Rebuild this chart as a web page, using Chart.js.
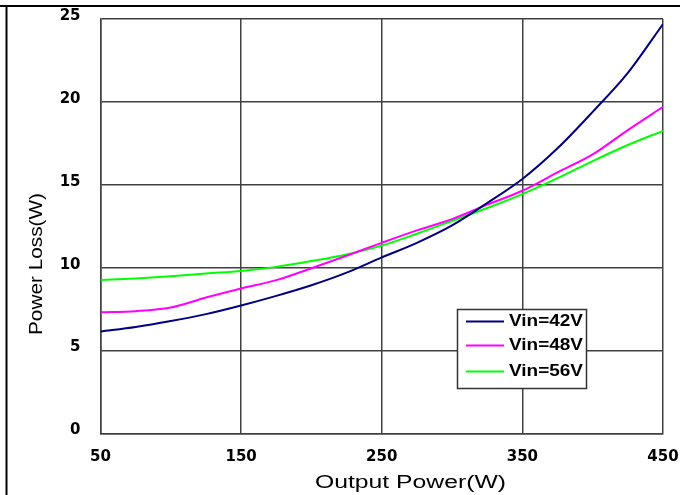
<!DOCTYPE html>
<html lang="en">
<head>
  <meta charset="UTF-8">
  <title>Power Loss vs Output Power</title>
  <script src="https://cdn.jsdelivr.net/npm/chart.js"></script>
  <style>
        body {
            margin: 0;
            background-color: #ffffff;
        }
    </style>
</head>
<body>
<canvas id="lossChart" width="680" height="495"></canvas>
<script>
    // output power (W)
    const outputPower = [50, 75, 100, 125, 150, 175, 200, 225, 250, 275, 300, 325, 350, 375, 400, 425, 450];
    // power loss (W) per input voltage
    const loss42 = [6.15, 6.42, 6.78, 7.2, 7.72, 8.3, 8.94, 9.7, 10.62, 11.5, 12.55, 13.9, 15.35, 17.2, 19.4, 21.75, 24.7];
    const loss48 = [7.31, 7.38, 7.6, 8.2, 8.75, 9.25, 9.97, 10.72, 11.5, 12.25, 12.93, 13.8, 14.64, 15.75, 16.83, 18.3, 19.7];
    const loss56 = [9.26, 9.35, 9.48, 9.65, 9.8, 10.05, 10.4, 10.8, 11.33, 12.05, 12.82, 13.6, 14.44, 15.4, 16.43, 17.4, 18.25];
    const seriesLabels = ['Vin=42V', 'Vin=48V', 'Vin=56V'];
    const seriesColors = ['#000080', '#ff00ff', '#00ff00'];
    const xTicks = [50, 150, 250, 350, 450];

    const xTitle = 'Output Power(W)';
    const yTitle = 'Power Loss(W)';

    function toPoints(values) {
        return values.map((v, i) => ({ x: outputPower[i], y: v }));
    }

    // stretched text, the scanned figure is wider than a normal font
    function stretchText(ctx, text, x, y, width) {
        const w = ctx.measureText(text).width;
        ctx.save();
        ctx.translate(x, y);
        ctx.scale(width / w, 1);
        ctx.fillText(text, 0, 0);
        ctx.restore();
    }

    const extras = {
        id: 'extras',
        afterDraw(chart) {
            const ctx = chart.ctx;

            // page frame lines
            ctx.save();
            ctx.strokeStyle = '#000000';
            ctx.lineWidth = 2;
            ctx.beginPath();
            ctx.moveTo(0, 6);
            ctx.lineTo(680, 6);
            ctx.moveTo(6.5, 6);
            ctx.lineTo(6.5, 495);
            ctx.stroke();

            // axis titles
            ctx.fillStyle = '#000000';
            ctx.font = '18px "Liberation Sans", Arial, sans-serif';
            ctx.textAlign = 'left';
            ctx.textBaseline = 'middle';
            stretchText(ctx, xTitle, 315, 483, 191);

            ctx.save();
            ctx.translate(37, 264);
            ctx.rotate(-Math.PI / 2);
            stretchText(ctx, yTitle, -71, 0, 142);
            ctx.restore();

            // legend box
            const bx = 457.5, by = 309.5, bw = 129, bh = 79;
            ctx.fillStyle = '#ffffff';
            ctx.fillRect(bx, by, bw, bh);
            ctx.strokeStyle = '#333333';
            ctx.lineWidth = 1.5;
            ctx.strokeRect(bx, by, bw, bh);
            const rows = [321.5, 345.5, 371.5];
            ctx.font = 'bold 16px "Liberation Sans", Arial, sans-serif';
            chart.data.datasets.forEach((ds, i) => {
                ctx.strokeStyle = ds.borderColor;
                ctx.lineWidth = 2;
                ctx.beginPath();
                ctx.moveTo(466, rows[i]);
                ctx.lineTo(504, rows[i]);
                ctx.stroke();
                ctx.fillStyle = '#000000';
                stretchText(ctx, ds.label, 509, rows[i], 74);
            });
            ctx.restore();
        }
    };

    const ctx = document.getElementById('lossChart').getContext('2d');
    window.lossChart = new Chart(ctx, {
        type: 'line',
        data: {
            datasets: [loss42, loss48, loss56].map((vals, i) => ({
                label: seriesLabels[i],
                data: toPoints(vals),
                borderColor: seriesColors[i],
                backgroundColor: seriesColors[i],
                borderWidth: 2,
                pointRadius: 0,
                cubicInterpolationMode: 'monotone',
                fill: false
            }))
        },
        options: {
            responsive: false,
            animation: false,
            layout: {
                padding: { top: 19, right: 17, bottom: 0, left: 0 }
            },
            plugins: {
                legend: { display: false },
                tooltip: { enabled: false }
            },
            scales: {
                x: {
                    type: 'linear',
                    min: 50,
                    max: 450,
                    afterBuildTicks: scale => {
                        scale.ticks = xTicks.map(v => ({ value: v }));
                    },
                    afterFit: scale => {
                        scale.height = 61.5;
                        scale.paddingLeft = 0;
                        scale.paddingRight = 0;
                    },
                    ticks: {
                        color: '#000000',
                        padding: 15,
                        maxRotation: 0,
                        font: { family: '"DejaVu Sans"', size: 15, weight: 'bold' }
                    },
                    grid: {
                        color: '#404040',
                        lineWidth: 1.5,
                        drawTicks: false
                    },
                    border: { color: '#404040', width: 1.5 }
                },
                y: {
                    min: 0,
                    max: 25,
                    afterFit: scale => {
                        scale.width = 100.5;
                        scale.paddingTop = 0;
                        scale.paddingBottom = 0;
                    },
                    ticks: {
                        stepSize: 5,
                        color: '#000000',
                        padding: 20,
                        labelOffset: -3,
                        font: { family: '"DejaVu Sans"', size: 15, weight: 'bold' }
                    },
                    grid: {
                        color: '#404040',
                        lineWidth: 1.5,
                        drawTicks: false
                    },
                    border: { color: '#404040', width: 1.5 }
                }
            }
        },
        plugins: [extras]
    });
</script>
</body>
</html>
